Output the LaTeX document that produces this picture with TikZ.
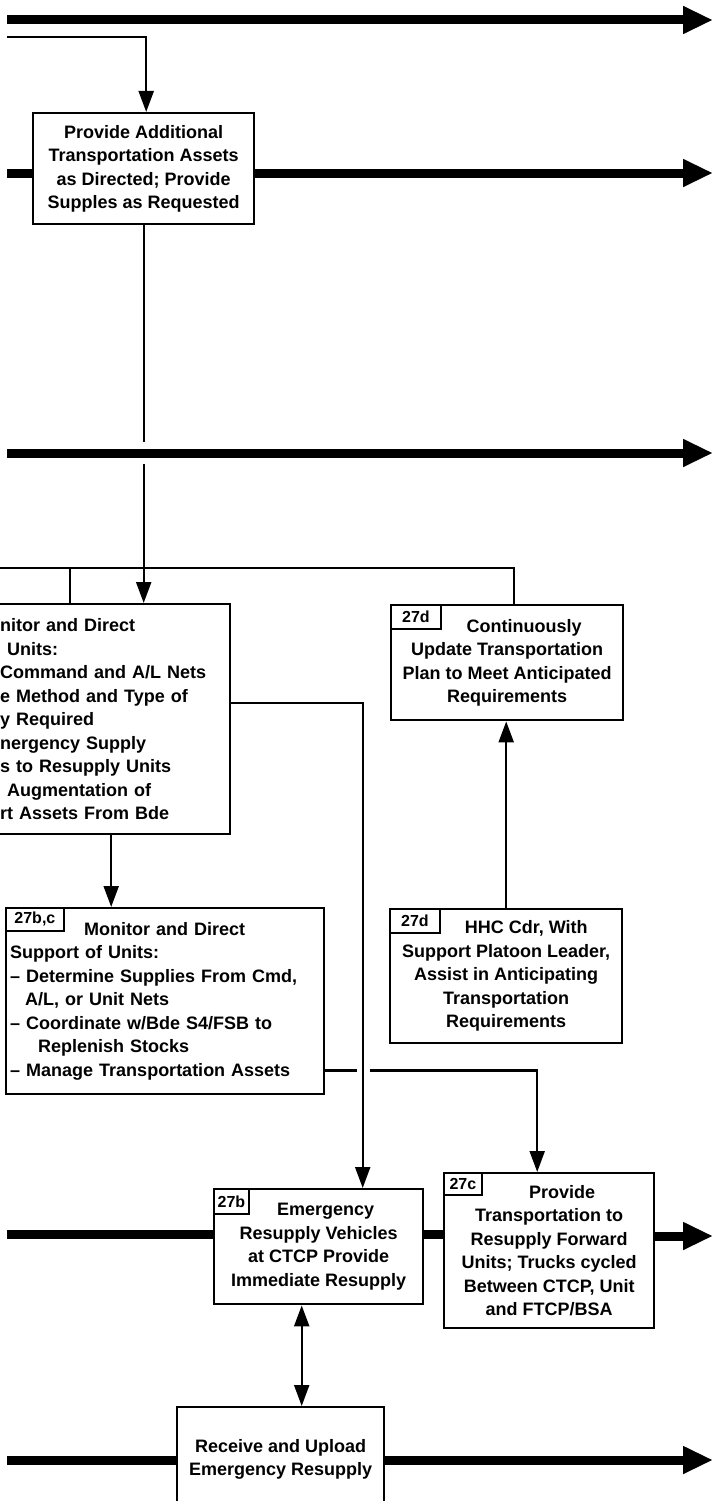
\documentclass[tikz,border=0pt]{standalone}
\usepackage{fontspec}
\setmainfont{Liberation Sans}
\usetikzlibrary{arrows.meta, positioning, calc}

\begin{document}
\begin{tikzpicture}[x=1pt, y=-1pt,
    kasten/.style={draw, line width=2.4pt, anchor=north west, inner sep=3pt, align=center, font=\bfseries\fontsize{18}{23.5}\selectfont},
    marke/.style={draw, line width=1.8pt, anchor=north west, inner sep=0pt, font=\bfseries\fontsize{16}{16}\selectfont},
    band/.style={line width=9pt},
    fluss/.style={band, -{Triangle[length=30pt,width=26pt]}},
    linie/.style={line width=2.2pt},
    pfeil/.style={linie, -{Triangle[length=21pt,width=15pt]}},
    doppelpfeil/.style={linie, {Triangle[length=21pt,width=15pt]}-{Triangle[length=21pt,width=15pt]}}]

        \useasboundingbox (0,0) rectangle (715,1501);
        \clip (0,0) rectangle (715,1501);

        % Kaesten
        \node[kasten, minimum width=221pt, minimum height=111pt] (b1) at (32,112) {Provide Additional\\Transportation Assets\\as Directed; Provide\\Supples as Requested};
        \node[kasten, align=left, text width=222pt, minimum width=238pt, minimum height=230pt] (b2) at (-9,603) {nitor and Direct\\\hspace*{7pt}Units:\\Command and A/L Nets\\e Method and Type of\\y Required\\nergency Supply\\s to Resupply Units\\\hspace*{7pt}Augmentation of\\rt Assets From Bde};
        \node[kasten, minimum width=232pt, minimum height=115pt] (b27dt) at (390,604) {\hspace*{34pt}Continuously\\Update Transportation\\Plan to Meet Anticipated\\Requirements};
        \node[kasten, align=left, text width=310pt, minimum width=318pt, minimum height=186pt] (b27bc) at (5,907) {\hspace*{74pt}Monitor and Direct\\Support of Units:\\-- Determine Supplies From Cmd,\\\hspace*{15pt}A/L, or Unit Nets\\-- Coordinate w/Bde S4/FSB to\\\hspace*{28pt}Replenish Stocks\\-- Manage Transportation Assets};
        \node[kasten, minimum width=232pt, minimum height=134pt] (b27dh) at (389,908) {\hspace*{40pt}HHC Cdr, With\\Support Platoon Leader,\\Assist in Anticipating\\Transportation\\Requirements};
        \node[kasten, minimum width=209pt, minimum height=115pt] (b27b) at (213,1188) {\hspace*{14pt}Emergency\\Resupply Vehicles\\at CTCP Provide\\Immediate Resupply};
        \node[kasten, minimum width=210pt, minimum height=155pt] (b27c) at (443,1172) {\hspace*{26pt}Provide\\Transportation to\\Resupply Forward\\Units; Trucks cycled\\Between CTCP, Unit\\and FTCP/BSA};
        \node[kasten, minimum width=207pt, minimum height=104pt] (b5) at (176,1406) {Receive and Upload\\Emergency Resupply};

        % Marken
        \node[marke, minimum width=50pt, minimum height=24pt] (m27dt) at (b27dt.north west) {27d};
        \node[marke, minimum width=58pt, minimum height=23pt] (m27bc) at (b27bc.north west) {27b,c};
        \node[marke, minimum width=50pt, minimum height=24pt] (m27dh) at (b27dh.north west) {27d};
        \node[marke, minimum width=35pt, minimum height=25pt] (m27b) at (b27b.north west) {27b};
        \node[marke, minimum width=38pt, minimum height=22pt] (m27c) at (b27c.north west) {27c};

        % Baender
        \coordinate (w1) at (7,20);
        \coordinate (e1) at (713,20);
        \coordinate (w2) at (7,173);
        \coordinate (e2) at (713,173);
        \coordinate (w3) at (7,453);
        \coordinate (e3) at (713,453);
        \coordinate (w4) at (7,1234);
        \coordinate (e4) at (713,1236);
        \coordinate (w5) at (7,1460);
        \coordinate (e5) at (713,1460);

        \draw[fluss] (w1) -- (e1);
        \draw[band] (w2) -- (w2 -| b1.west);
        \draw[fluss] (w2 -| b1.east) -- (e2);
        \draw[fluss] (w3) -- (e3);
        \draw[band] (w4) -- (w4 -| b27b.west);
        \draw[band] (w4 -| b27b.east) -- (w4 -| b27c.west);
        \draw[fluss] (b27c.east |- e4) -- (e4);
        \draw[band] (w5) -- (w5 -| b5.west);
        \draw[fluss] (w5 -| b5.east) -- (e5);

        % Pfeil
        \coordinate (w0) at (7,37);
        \draw[pfeil] (w0) -| ([xshift=2.5pt]b1.north);

        % Pfeil
        \draw[linie] (b1.south) -- ($(b1.south |- w3)+(0,-11)$);
        \draw[pfeil] ($(b1.south |- w3)+(0,11)$) -- (b1.south |- b2.north);

        % Linie
        \coordinate (w6) at (0,568);
        \coordinate (k1) at (70,568);
        \draw[linie] (w6) -| ([xshift=7pt]b27dt.north);
        \draw[linie] (k1) -- (k1 |- b2.north);

        % Pfeil
        \draw[pfeil] ([yshift=16pt]b2.east) -| ([xshift=44pt]b27b.north);

        % Pfeil
        \draw[pfeil] (b2.south) -- (b2.south |- b27bc.north);

        % Pfeil
        \coordinate (k3) at ([yshift=25pt]b27bc.south east);
        \draw[linie] (k3) -- ++(32,0);
        \draw[pfeil] ($(k3)+(45,0)$) -| ([xshift=-12pt]b27c.north);

        % Pfeil
        \draw[pfeil] (b27dh.north) -- (b27dh.north |- b27dt.south);

        % Doppelpfeil
        \draw[doppelpfeil] ([xshift=-17pt]b27b.south) -- ([xshift=-17pt]b27b.south |- b5.north);

      \end{tikzpicture}
\end{document}
